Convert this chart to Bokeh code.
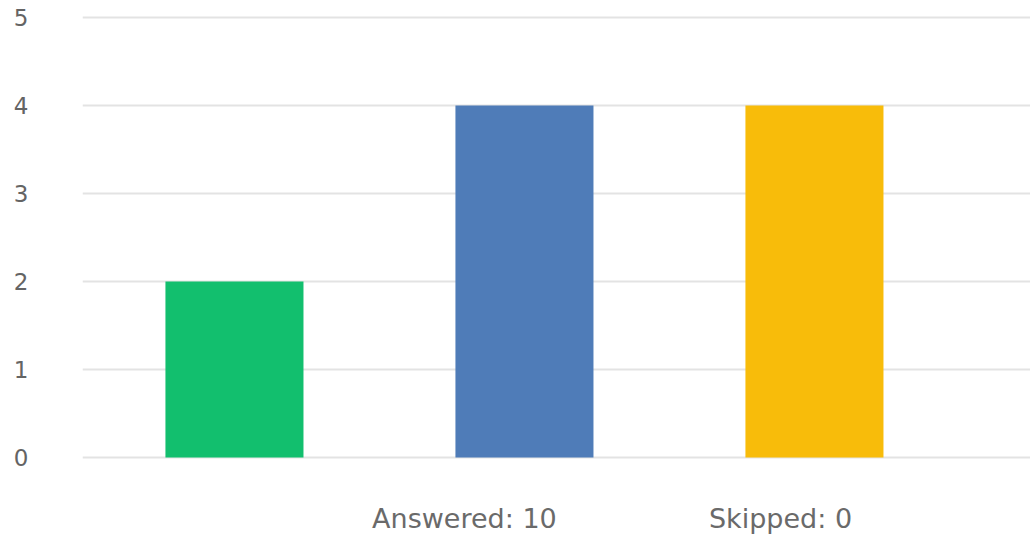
from bokeh.plotting import figure
from bokeh.models import Range1d, Label
from bokeh.embed import file_html
from bokeh.resources import INLINE

categories = ["Option 1", "Option 2", "Option 3"]
values = [2, 4, 4]
colors = ["#12BF6E", "#4F7CB8", "#F8BC0A"]
y_ticks = [0, 1, 2, 3, 4, 5]
answered = 10
skipped = 0

xs = [i + 1 for i in range(len(categories))]

p = figure(width=1030, height=534, output_backend="svg", toolbar_location=None,
           x_range=Range1d(0.476, 3.745), y_range=Range1d(-0.875, 5.193),
           x_axis_location=None,
           min_border_left=82, min_border_right=0, min_border_top=0, min_border_bottom=0)
p.outline_line_color = None
p.background_fill_color = "white"
p.border_fill_color = "white"

p.vbar(x=xs, top=values, width=0.476, color=colors, line_color=None)

p.xgrid.visible = False
p.yaxis.ticker = y_ticks
p.yaxis.axis_line_color = None
p.yaxis.major_tick_line_color = None
p.yaxis.minor_tick_line_color = None
p.yaxis.major_label_standoff = 48
p.yaxis.major_label_text_font = "DejaVu Sans"
p.yaxis.major_label_text_font_size = "23px"
p.yaxis.major_label_text_color = "#646464"
p.ygrid.grid_line_color = "#e3e3e3"
p.ygrid.grid_line_width = 2

for txt, xpos in [(f"Answered: {answered}", 1.793), (f"Skipped: {skipped}", 2.883)]:
    p.add_layout(Label(x=xpos, y=-0.693, text=txt, text_align="center", text_baseline="middle",
                       text_font="DejaVu Sans", text_font_size="27px", text_color="#6a6a6a"))

open("out.html", "w").write(file_html(p, INLINE))
